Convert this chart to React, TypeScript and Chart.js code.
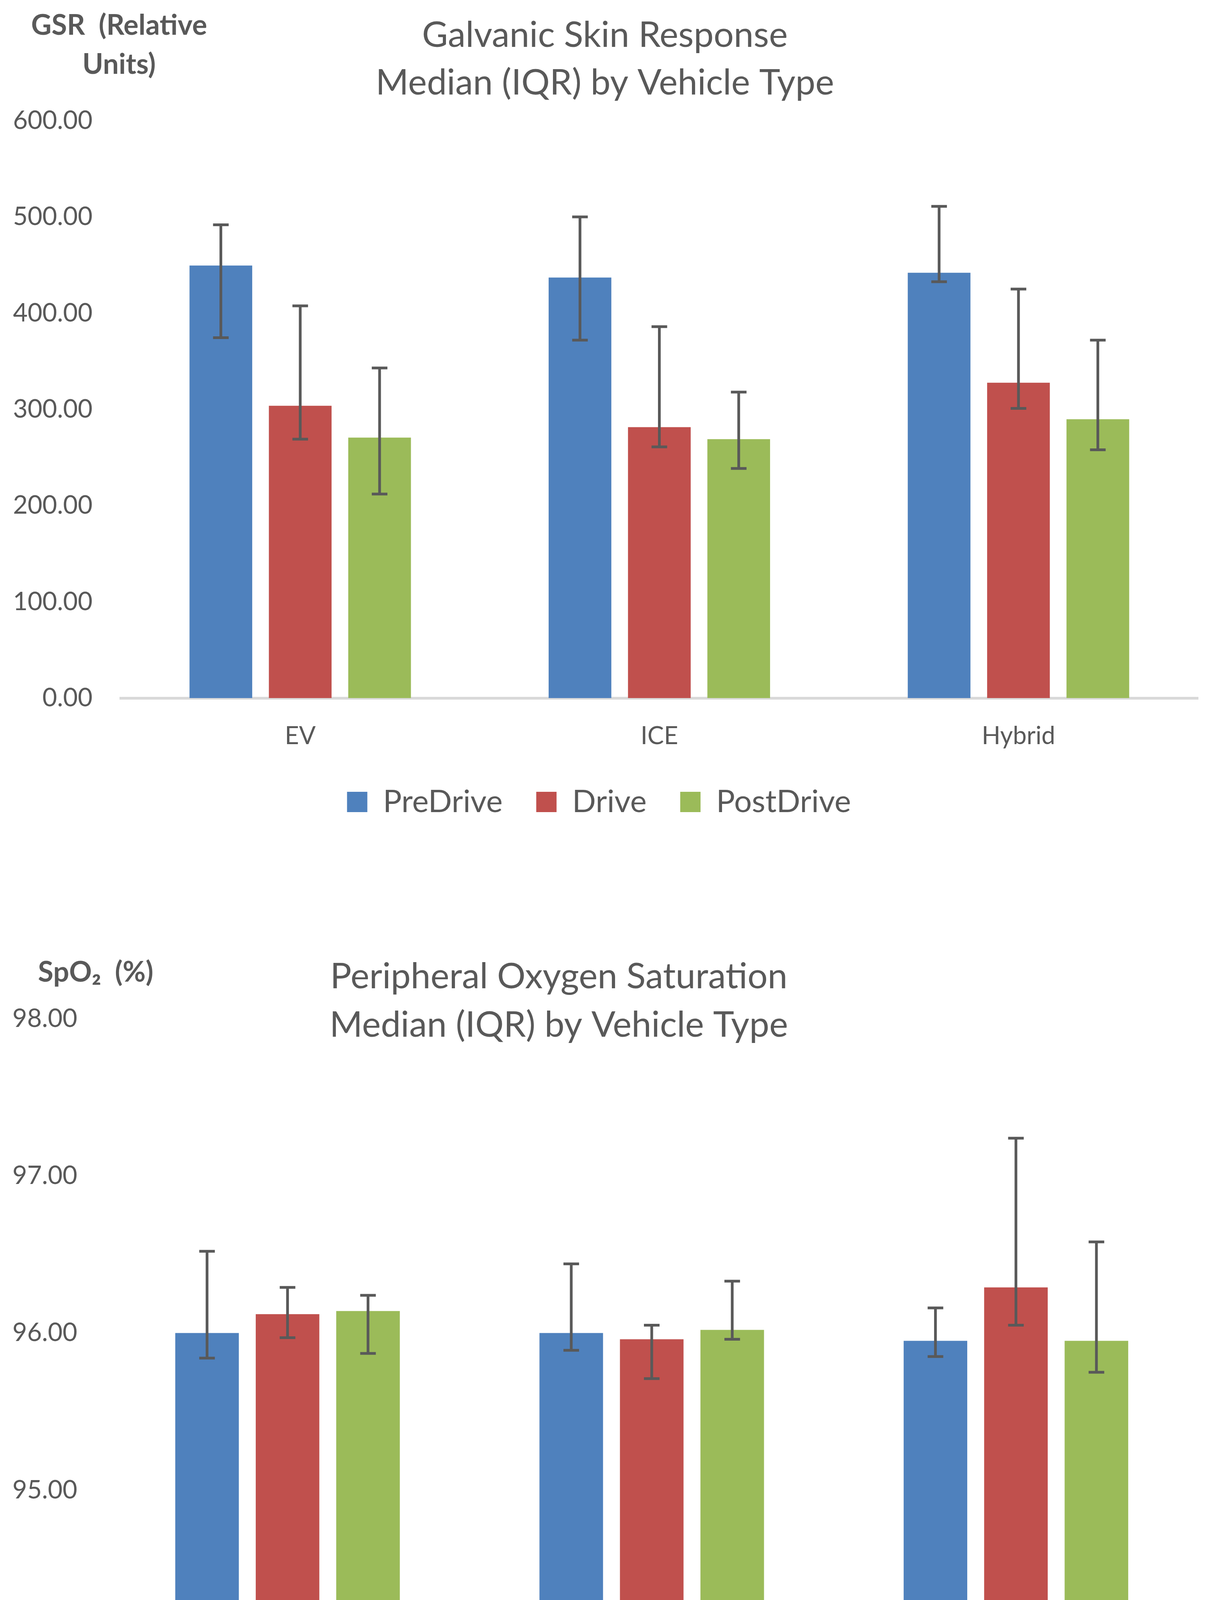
import { useEffect, useRef } from 'react';
import { Chart, registerables, ChartConfiguration, Plugin } from 'chart.js';

Chart.register(...registerables);

const FONT = 'Lato, "Noto Sans", "DejaVu Sans", sans-serif';
const TEXT = '#595959';
const PAGE_W = 3114;

const vehicleTypes = ['EV', 'ICE', 'Hybrid'];
const phases = ['PreDrive', 'Drive', 'PostDrive'];
const phaseColors = ['#4f81bd', '#c0504d', '#9bbb59'];

// GSR medians with Q1 / Q3 (relative units)
const gsrPreDrive = [449.5, 437, 442];
const gsrPreDriveQ1 = [374.5, 372, 432.6];
const gsrPreDriveQ3 = [491.8, 500, 511];
const gsrDrive = [303.8, 281.5, 327.7];
const gsrDriveQ1 = [269, 261, 301];
const gsrDriveQ3 = [407.6, 386, 425];
const gsrPostDrive = [270.7, 269, 289.7];
const gsrPostDriveQ1 = [212, 238.6, 258];
const gsrPostDriveQ3 = [343, 318, 372];
const gsrTicks = [0, 100, 200, 300, 400, 500, 600];

// SpO2 medians with Q1 / Q3 (%)
const spo2PreDrive = [96.0, 96.0, 95.95];
const spo2PreDriveQ1 = [95.84, 95.89, 95.85];
const spo2PreDriveQ3 = [96.52, 96.44, 96.16];
const spo2Drive = [96.12, 95.96, 96.29];
const spo2DriveQ1 = [95.97, 95.71, 96.05];
const spo2DriveQ3 = [96.29, 96.05, 97.24];
const spo2PostDrive = [96.14, 96.02, 95.95];
const spo2PostDriveQ1 = [95.87, 95.96, 95.75];
const spo2PostDriveQ3 = [96.24, 96.33, 96.58];
const spo2Ticks = [94, 95, 96, 97, 98];

type PanelSpec = {
  top: number;
  height: number;
  title: string[];
  titleX: number;
  titleY: number;
  titleGap: number;
  axisLabel: string[];
  axisX: number;
  axisY: number;
  axisGap: number;
  medians: number[][];
  q1: number[][];
  q3: number[][];
  ticks: number[];
  plotTop: number;
  plotLeft: number;
  plotRight: number;
  xAxisHeight: number;
  legendPadding: number;
  legendFullSize: boolean;
};

function headingsPlugin(spec: PanelSpec): Plugin<'bar'> {
  return {
    id: 'headings',
    afterDraw(chart) {
      const ctx = chart.ctx;
      ctx.save();
      ctx.fillStyle = TEXT;
      ctx.textAlign = 'center';
      ctx.textBaseline = 'alphabetic';
      ctx.font = `91px ${FONT}`;
      spec.title.forEach((line, i) => ctx.fillText(line, spec.titleX, spec.titleY + i * spec.titleGap));
      ctx.font = `bold 72px ${FONT}`;
      spec.axisLabel.forEach((line, i) => ctx.fillText(line, spec.axisX, spec.axisY + i * spec.axisGap));
      ctx.restore();
    },
  };
}

// IQR whiskers drawn over each bar
function errorBarsPlugin(spec: PanelSpec): Plugin<'bar'> {
  return {
    id: 'errorBars',
    afterDatasetsDraw(chart) {
      const { ctx } = chart;
      const y = chart.scales.y;
      ctx.save();
      ctx.strokeStyle = '#595959';
      ctx.lineWidth = 7;
      chart.data.datasets.forEach((_ds, i) => {
        const meta = chart.getDatasetMeta(i);
        meta.data.forEach((bar, j) => {
          const x = bar.x;
          const lo = y.getPixelForValue(spec.q1[i][j]);
          const hi = y.getPixelForValue(spec.q3[i][j]);
          ctx.beginPath();
          ctx.moveTo(x, lo);
          ctx.lineTo(x, hi);
          ctx.moveTo(x - 20, lo);
          ctx.lineTo(x + 20, lo);
          ctx.moveTo(x - 20, hi);
          ctx.lineTo(x + 20, hi);
          ctx.stroke();
        });
      });
      ctx.restore();
    },
  };
}

function ChartPanel({ spec }: { spec: PanelSpec }) {
  const canvasRef = useRef<HTMLCanvasElement>(null);
  const chartInstanceRef = useRef<Chart | null>(null);

  useEffect(() => {
    if (!canvasRef.current) return;
    if (chartInstanceRef.current) chartInstanceRef.current.destroy();

    const config: ChartConfiguration<'bar'> = {
      type: 'bar',
      data: {
        labels: vehicleTypes,
        datasets: phases.map((phase, i) => ({
          label: phase,
          data: spec.medians[i],
          backgroundColor: phaseColors[i],
          borderWidth: 0,
          categoryPercentage: 0.663,
          barPercentage: 0.79,
        })),
      },
      options: {
        animation: false,
        responsive: true,
        maintainAspectRatio: false,
        layout: { padding: { top: spec.plotTop, left: 0, right: PAGE_W - spec.plotRight, bottom: 0 } },
        scales: {
          x: {
            grid: { display: true, drawTicks: false, color: 'rgba(0,0,0,0)' },
            border: { display: true, color: '#d9d9d9', width: 7 },
            ticks: { color: TEXT, font: { family: FONT, size: 63 }, padding: 60 },
            afterFit: (scale) => {
              scale.height = spec.xAxisHeight;
            },
          },
          y: {
            min: spec.ticks[0],
            max: spec.ticks[spec.ticks.length - 1],
            grid: { display: false, drawTicks: false },
            border: { display: false },
            ticks: {
              color: TEXT,
              font: { family: FONT, size: 65 },
              padding: 72,
              callback: (v) => Number(v).toFixed(2),
            },
            afterBuildTicks: (scale) => {
              scale.ticks = spec.ticks.map((value) => ({ value }));
            },
            afterFit: (scale) => {
              scale.width = spec.plotLeft;
            },
          },
        },
        plugins: {
          legend: {
            position: 'bottom',
            fullSize: spec.legendFullSize,
            labels: {
              color: TEXT,
              font: { family: FONT, size: 80 },
              boxWidth: 52,
              boxHeight: 52,
              padding: spec.legendPadding,
            },
          },
          title: { display: false },
          tooltip: { enabled: false },
        },
      },
      plugins: [headingsPlugin(spec), errorBarsPlugin(spec)],
    };

    chartInstanceRef.current = new Chart(canvasRef.current, config);

    return () => {
      if (chartInstanceRef.current) {
        chartInstanceRef.current.destroy();
        chartInstanceRef.current = null;
      }
    };
  }, [spec]);

  return (
    <div style={{ position: 'absolute', left: 0, top: spec.top, width: PAGE_W, height: spec.height }}>
      <canvas ref={canvasRef}></canvas>
    </div>
  );
}

const gsrSpec: PanelSpec = {
  top: 0,
  height: 2103,
  title: ['Galvanic Skin Response', 'Median (IQR) by Vehicle Type'],
  titleX: 1549,
  titleY: 120,
  titleGap: 122,
  axisLabel: ['GSR  (Relative', 'Units)'],
  axisX: 305,
  axisY: 89,
  axisGap: 100,
  medians: [gsrPreDrive, gsrDrive, gsrPostDrive],
  q1: [gsrPreDriveQ1, gsrDriveQ1, gsrPostDriveQ1],
  q3: [gsrPreDriveQ3, gsrDriveQ3, gsrPostDriveQ3],
  ticks: gsrTicks,
  plotTop: 309,
  plotLeft: 309,
  plotRight: 3068,
  xAxisHeight: 140,
  legendPadding: 86,
  legendFullSize: true,
};

const spo2Spec: PanelSpec = {
  top: 2280,
  height: 2286,
  title: ['Peripheral Oxygen Saturation', 'Median (IQR) by Vehicle Type'],
  titleX: 1431,
  titleY: 250,
  titleGap: 124,
  axisLabel: ['SpO\u2082  (%)'],
  axisX: 245,
  axisY: 233,
  axisGap: 100,
  medians: [spo2PreDrive, spo2Drive, spo2PostDrive],
  q1: [spo2PreDriveQ1, spo2DriveQ1, spo2PostDriveQ1],
  q3: [spo2PreDriveQ3, spo2DriveQ3, spo2PostDriveQ3],
  ticks: spo2Ticks,
  plotTop: 328,
  plotLeft: 270,
  plotRight: 3068,
  xAxisHeight: 162,
  legendPadding: 97,
  legendFullSize: false,
};

export default function App() {
  useEffect(() => {
    document.body.style.margin = '0';
  }, []);

  return (
    <div style={{ position: 'absolute', left: 0, top: 0, width: PAGE_W, height: 4583, background: '#ffffff' }}>
      <ChartPanel spec={gsrSpec} />
      <ChartPanel spec={spo2Spec} />
    </div>
  );
}
